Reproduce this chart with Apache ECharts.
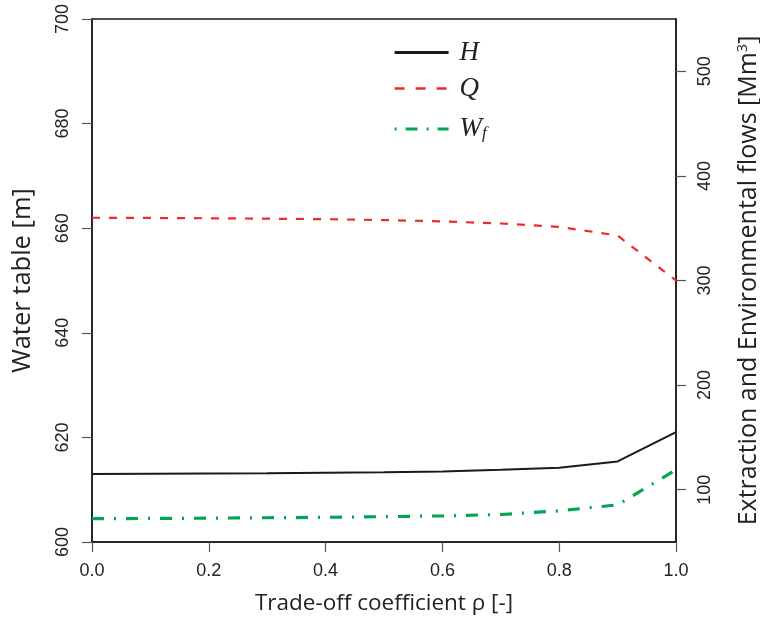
<!DOCTYPE html>
<html>
<head>
<meta charset="utf-8">
<script src="https://cdn.jsdelivr.net/npm/echarts@6/dist/echarts.min.js"></script>
<style>
html,body{margin:0;padding:0;background:#fff;}
#chart{width:760px;height:624px;}
</style>
</head>
<body>
<div id="chart"></div>
<script>
const rho = [0.0, 0.1, 0.2, 0.3, 0.4, 0.5, 0.6, 0.7, 0.8, 0.9, 1.0];
const H = [613.0, 613.05, 613.1, 613.15, 613.25, 613.35, 613.5, 613.8, 614.2, 615.4, 621.0];
const Q = [360, 359.8, 359.5, 359.1, 358.6, 357.8, 356.5, 354.5, 351.3, 343, 300];
const Wf = [72.3, 72.5, 72.8, 73.2, 73.6, 74.2, 75.0, 76.3, 79.8, 85.5, 119];
const leftTicks = [600, 620, 640, 660, 680, 700];
const rightTicks = [100, 200, 300, 400, 500];
const xTicks = [0.0, 0.2, 0.4, 0.6, 0.8, 1.0];

const pairs = (ys) => rho.map((x, i) => [x, ys[i]]);

const tickFont = {fontFamily: 'Liberation Sans', fontSize: 18, color: '#222'};
const nameFont = (s) => ({fontFamily: 'Open Sans', fontSize: s, color: '#222'});
const axisLine = {show: true, onZero: false, lineStyle: {color: '#1a1a1a', width: 1.5}};
const axisTick = {show: true, length: 10, lineStyle: {color: '#555', width: 1.2}};

const chart = echarts.init(document.getElementById('chart'), null, {renderer: 'canvas'});
chart.setOption({
  animation: false,
  backgroundColor: '#fff',
  grid: {left: 92, right: 84, top: 19, bottom: 82, show: true, borderColor: '#1a1a1a', borderWidth: 1.5,
         backgroundColor: 'transparent', containLabel: false, outerBoundsMode: 'none'},
  legend: {
    orient: 'vertical',
    left: 388,
    top: 34,
    itemWidth: 54,
    itemHeight: 26,
    itemGap: 9,
    itemStyle: {opacity: 0},
    lineStyle: {width: 2.8},
    data: [
      {name: 'H'},
      {name: 'Q', lineStyle: {type: [10, 11], width: 2.6}},
      {name: 'Wf', lineStyle: {type: [2, 9, 12, 9], width: 3.2}}
    ],
    formatter: (n) => n === 'Wf' ? '{i|W}{s|f}' : '{i|' + n + '}',
    textStyle: {
      rich: {
        i: {fontFamily: 'Liberation Serif', fontStyle: 'italic', fontSize: 27, color: '#222', padding: [0, 0, 0, 6], lineHeight: 26},
        s: {fontFamily: 'Liberation Serif', fontStyle: 'italic', fontSize: 17, color: '#222', verticalAlign: 'bottom', padding: [14, 0, 0, 0], lineHeight: 26}
      }
    }
  },
  xAxis: {
    type: 'value', min: 0, max: 1, interval: 0.2,
    name: 'Trade-off coefficient ρ [-]', nameLocation: 'middle', nameGap: 50,
    nameTextStyle: nameFont(22.5),
    axisLine: axisLine, axisTick: axisTick,
    splitLine: {show: false},
    axisLabel: Object.assign({margin: 20, formatter: (v) => v.toFixed(1), customValues: xTicks}, tickFont)
  },
  yAxis: [{
    type: 'value', min: 600, max: 700, interval: 20, position: 'left',
    name: 'Water table [m]', nameLocation: 'middle', nameGap: 56, nameRotate: 90,
    nameTextStyle: nameFont(25.5),
    axisLine: axisLine, axisTick: axisTick,
    splitLine: {show: false},
    axisLabel: Object.assign({rotate: 90, margin: 20, customValues: leftTicks}, tickFont)
  }, {
    type: 'value', min: 50, max: 550, position: 'right',
    name: 'Extraction and Environmental flows [Mm{sup|3}]', nameLocation: 'middle', nameGap: 59, nameRotate: 90,
    nameTextStyle: Object.assign({rich: {sup: {fontFamily: 'Open Sans', fontSize: 14.5, color: '#222', verticalAlign: 'top', padding: [0, 0, 12, 0]}}}, nameFont(25)),
    axisLine: axisLine,
    axisTick: Object.assign({customValues: rightTicks}, axisTick),
    splitLine: {show: false},
    axisLabel: Object.assign({rotate: 90, margin: 20, customValues: rightTicks}, tickFont)
  }],
  series: [{
    name: 'H', type: 'line', yAxisIndex: 0, data: pairs(H),
    showSymbol: false, symbol: 'none',
    lineStyle: {color: '#1a1a1a', width: 2, type: 'solid'},
    itemStyle: {color: '#1a1a1a'}
  }, {
    name: 'Q', type: 'line', yAxisIndex: 1, data: pairs(Q),
    showSymbol: false, symbol: 'none',
    lineStyle: {color: '#ee2a2e', width: 2.2, type: [8, 9]},
    itemStyle: {color: '#ee2a2e'}
  }, {
    name: 'Wf', type: 'line', yAxisIndex: 1, data: pairs(Wf),
    showSymbol: false, symbol: 'none',
    lineStyle: {color: '#00a651', width: 3.2, type: [12, 10, 2, 10]},
    itemStyle: {color: '#00a651'}
  }]
});
</script>
</body>
</html>
